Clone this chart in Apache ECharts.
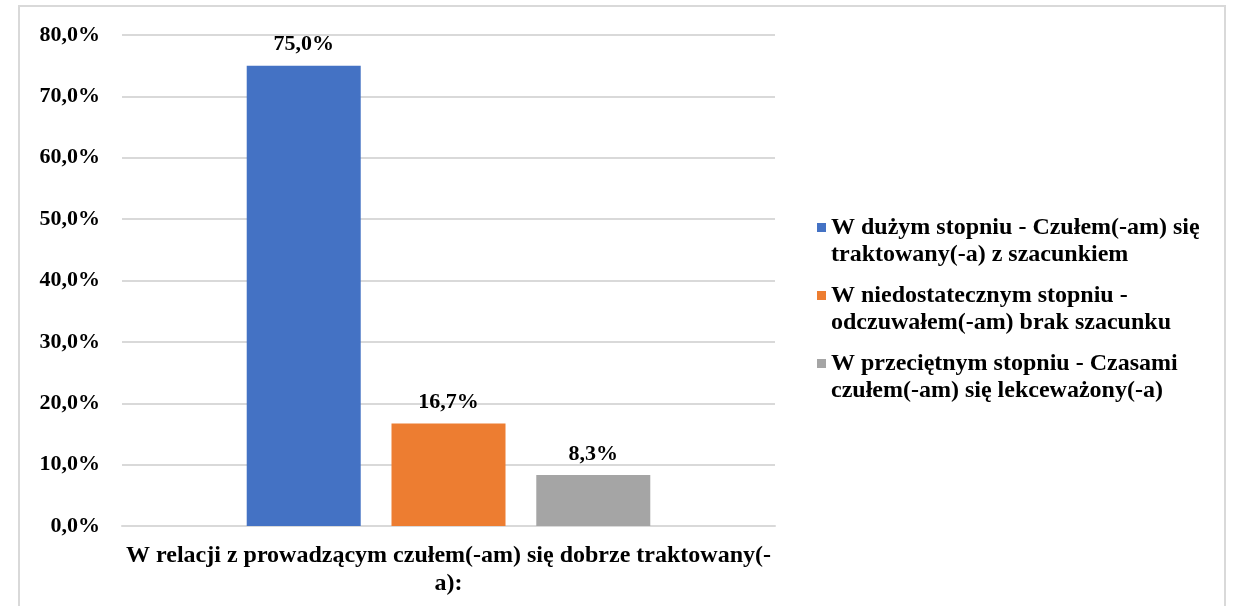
<!DOCTYPE html>
<html>
<head>
<meta charset="utf-8">
<script src="https://cdn.jsdelivr.net/npm/echarts@6/dist/echarts.min.js"></script>
<style>
html,body{margin:0;padding:0;background:#fff;}
#frame{position:absolute;left:18px;top:5px;width:1208px;height:640px;border:2px solid #d9d9d9;box-sizing:border-box;}
#chart{position:absolute;left:0;top:0;width:1236px;height:606px;}
</style>
</head>
<body>
<div id="frame"></div>
<div id="chart"></div>
<script>
const categories = ["W relacji z prowadzącym czułem(-am) się dobrze traktowany(-\na):"];
const seriesNames = [
  "W dużym stopniu - Czułem(-am) się\ntraktowany(-a) z szacunkiem",
  "W niedostatecznym stopniu -\nodczuwałem(-am) brak szacunku",
  "W przeciętnym stopniu - Czasami\nczułem(-am) się lekceważony(-a)"
];
const seriesValues = [75.0, 16.7, 8.3];
const seriesColors = ["#4472c4", "#ed7d31", "#a5a5a5"];
const yTicks = [0, 10, 20, 30, 40, 50, 60, 70, 80];

const fmt = v => v.toFixed(1).replace('.', ',') + '%';
const font = '"Liberation Serif", "Times New Roman", serif';

const chart = echarts.init(document.getElementById('chart'));
chart.setOption({
  animation: false,
  textStyle: { fontFamily: font },
  grid: { left: 122, right: 461, top: 35, bottom: 80 },
  legend: {
    orient: 'vertical',
    left: 817,
    top: 214,
    padding: 0,
    itemWidth: 9,
    itemHeight: 36,
    itemGap: 14,
    icon: 'path://M0,0L9,0L9,9L0,9Z M0,36L9,36',
    data: seriesNames,
    textStyle: {
      fontFamily: font, fontWeight: 'bold', fontSize: 24, color: '#000',
      lineHeight: 27
    }
  },
  xAxis: {
    type: 'category',
    data: categories,
    axisLine: { lineStyle: { color: '#d9d9d9', width: 2 } },
    axisTick: { show: false },
    axisLabel: {
      fontFamily: font, fontWeight: 'bold', fontSize: 24, color: '#000',
      lineHeight: 28, margin: 16
    }
  },
  yAxis: {
    type: 'value',
    min: yTicks[0],
    max: yTicks[yTicks.length - 1],
    interval: 10,
    axisLine: { show: false },
    axisTick: { show: false },
    splitLine: { lineStyle: { color: '#d9d9d9', width: 2 } },
    axisLabel: {
      fontFamily: font, fontWeight: 'bold', fontSize: 22, color: '#000',
      margin: 22, formatter: v => fmt(v)
    }
  },
  series: seriesNames.map((name, i) => ({
    name: name,
    type: 'bar',
    data: [seriesValues[i]],
    barWidth: 114,
    barGap: '27%',
    itemStyle: { color: seriesColors[i] },
    label: {
      show: true, position: 'top', distance: 10,
      fontFamily: font, fontWeight: 'bold', fontSize: 22, color: '#000',
      formatter: p => fmt(p.value)
    }
  }))
});
</script>
</body>
</html>
